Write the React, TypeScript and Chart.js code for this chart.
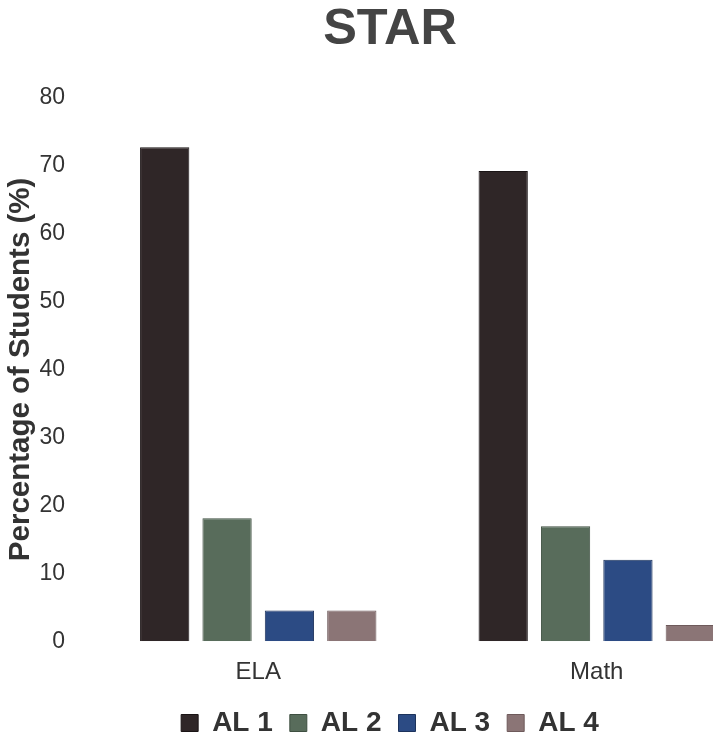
import React, { useEffect, useRef } from "react";
import { Chart, registerables } from "chart.js";

Chart.register(...registerables);

const categories = ["ELA", "Math"];
const seriesLabels = ["AL 1", "AL 2", "AL 3", "AL 4"];
const al1 = [72.7, 69.2];
const al2 = [18.1, 16.9];
const al3 = [4.5, 12.0];
const al4 = [4.5, 2.4];
const yTicks = [0, 10, 20, 30, 40, 50, 60, 70, 80];

const fills = ["#2f2627", "#586c5b", "#2c4b84", "#8b7576"];
const borders = ["#1a1415", "#3e4f41", "#1d335c", "#6e5a5b"];

export default function App() {
  const ref = useRef<HTMLCanvasElement | null>(null);
  useEffect(() => {
    if (!ref.current) return;
    const values = [al1, al2, al3, al4];
    const chart = new Chart(ref.current, {
      type: "bar",
      data: {
        labels: categories,
        datasets: seriesLabels.map((l, i) => ({
          label: l,
          data: values[i],
          backgroundColor: fills[i],
          borderColor: borders[i],
          borderWidth: 1,
          categoryPercentage: 0.737,
          barPercentage: 0.79,
        })),
      },
      options: {
        animation: false,
        responsive: true,
        maintainAspectRatio: false,
        layout: { padding: { left: 14, right: 14, top: 0, bottom: 0 } },
        plugins: {
          title: {
            display: true,
            text: "STAR",
            color: "#444444",
            font: { family: "Liberation Sans, Arial", size: 50.5, weight: "bold" },
            padding: { top: 0, bottom: 37 },
          },
          legend: {
            position: "bottom",
            labels: {
              boxWidth: 17,
              boxHeight: 17,
              padding: 17,
              color: "#333333",
              font: { family: "Liberation Sans, Arial", size: 28, weight: "bold" },
            },
          },
          tooltip: { enabled: false },
        },
        scales: {
          x: {
            afterFit: (axis: any) => {
              axis.height = axis.height - 12;
            },
            grid: { display: false, drawTicks: false },
            border: { display: false },
            ticks: {
              color: "#333333",
              padding: 17,
              font: { family: "Liberation Sans, Arial", size: 24 },
            },
          },
          y: {
            min: 0,
            max: 80,
            afterBuildTicks: (axis: any) => {
              axis.ticks = yTicks.map((v) => ({ value: v }));
            },
            afterFit: (axis: any) => {
              axis.width = 75;
            },
            grid: { display: false, drawTicks: false },
            border: { display: false },
            ticks: {
              color: "#333333",
              padding: 24,
              font: { family: "Liberation Sans, Arial", size: 23 },
            },
            title: {
              display: true,
              text: "Percentage of Students (%)",
              color: "#333333",
              font: { family: "Liberation Sans, Arial", size: 29.5, weight: "bold" },
              padding: { top: -11, bottom: 0 },
            },
          },
        },
      },
    });
    return () => chart.destroy();
  }, []);
  return (
    <div style={{ position: "absolute", left: 0, top: 0, width: 713, height: 738, overflow: "hidden", background: "#fff" }}>
      <div style={{ position: "relative", width: 780, height: 747 }}>
        <canvas ref={ref} />
      </div>
    </div>
  );
}
